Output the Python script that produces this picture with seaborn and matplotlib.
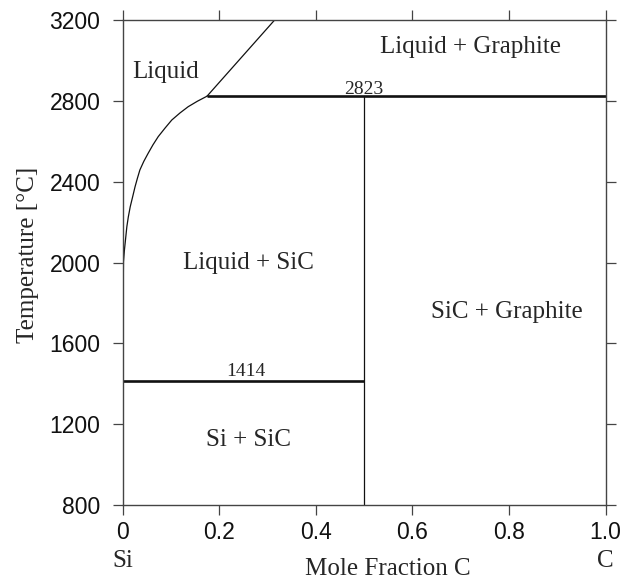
import matplotlib
matplotlib.use("Agg")
import matplotlib.pyplot as plt
import matplotlib.transforms as mtransforms
import seaborn as sns
import pandas as pd

# Liquidus of Si-rich liquid in equilibrium with SiC (mole fraction C, temperature in C)
liquidus_x = [0.001, 0.002, 0.004, 0.009, 0.012, 0.016, 0.021, 0.026, 0.031, 0.036, 0.044,
              0.053, 0.063, 0.074, 0.088, 0.102, 0.119, 0.136, 0.155, 0.175]
liquidus_T = [1726, 2003, 2062, 2177, 2225, 2276, 2325, 2375, 2418, 2458, 2500,
              2540, 2582, 2623, 2665, 2705, 2740, 2771, 2798, 2823]

# Liquidus of liquid in equilibrium with graphite above the peritectic
graphite_liq_x = [0.175, 0.315]
graphite_liq_T = [2823, 3200]

# Invariant temperatures
peritectic_T = 2823
eutectic_T = 1414
sic_x = 0.5

# Phase field labels
region_labels = ["Liquid", "Liquid + Graphite", "Liquid + SiC", "SiC + Graphite", "Si + SiC"]
region_x = [0.089, 0.7215, 0.26, 0.795, 0.261]
region_T = [2943, 3066, 2000, 1755, 1122]

x_ticks = [0, 0.2, 0.4, 0.6, 0.8, 1.0]
x_tick_labels = ["0", "0.2", "0.4", "0.6", "0.8", "1.0"]
y_ticks = [800, 1200, 1600, 2000, 2400, 2800, 3200]

sns.set_theme(style="ticks")
plt.rcParams["font.family"] = ["Liberation Serif", "DejaVu Serif"]

fig = plt.figure(figsize=(6.34, 5.79), dpi=100)
ax = fig.add_axes([122.5 / 634, 74 / 579, 483 / 634, 485 / 579])

line_col = "#111111"
spine_col = "#444444"

liq = pd.DataFrame({"x": liquidus_x, "T": liquidus_T})
sns.lineplot(data=liq, x="x", y="T", ax=ax, color=line_col, lw=0.9, sort=False)
gl = pd.DataFrame({"x": graphite_liq_x, "T": graphite_liq_T})
sns.lineplot(data=gl, x="x", y="T", ax=ax, color=line_col, lw=0.9, sort=False)

# Invariant lines
ax.plot([liquidus_x[-1], 1.0], [peritectic_T, peritectic_T], color=line_col, lw=1.9, solid_capstyle="butt")
ax.plot([0, sic_x], [eutectic_T, eutectic_T], color=line_col, lw=1.9, solid_capstyle="butt")
ax.plot([sic_x, sic_x], [800, peritectic_T], color=line_col, lw=0.9)

ax.text(0.5, peritectic_T + 10, str(peritectic_T), ha="center", va="baseline", fontsize=14)
ax.text(0.255, eutectic_T + 25, str(eutectic_T), ha="center", va="baseline", fontsize=14)

for lab, x, t in zip(region_labels, region_x, region_T):
    ax.text(x, t, lab, ha="center", va="center", fontsize=18)

ax.set_xlim(0, 1)
ax.set_ylim(800, 3200)
ax.set_xticks(x_ticks)
ax.set_xticklabels(x_tick_labels)
ax.set_yticks(y_ticks)

for s in ax.spines.values():
    s.set_visible(True)
    s.set_color(spine_col)
    s.set_linewidth(1.0)

ax.tick_params(axis="both", which="both", direction="out", length=7.5, width=0.9,
               color=spine_col, top=True, right=True, labeltop=False, labelright=False)
ax.tick_params(axis="x", pad=4)
ax.tick_params(axis="y", pad=8.5)
for lbl in ax.get_xticklabels() + ax.get_yticklabels():
    lbl.set_fontfamily(["Liberation Sans", "DejaVu Sans"])
    lbl.set_fontsize(16.5)
    lbl.set_color("#111111")

ax.set_xlabel("")
ax.set_ylabel("")
fig.text(28 / 634, 1 - 255 / 579, "Temperature [°C]", rotation=90, ha="center", va="center", fontsize=18)
fig.text(388 / 634, 1 - 569 / 579, "Mole Fraction C", ha="center", va="center", fontsize=18)

trans = mtransforms.blended_transform_factory(ax.transData, fig.transFigure)
ax.text(0.0, 1 - 561 / 579, "Si", transform=trans, ha="center", va="center", fontsize=18)
ax.text(1.0, 1 - 561 / 579, "C", transform=trans, ha="center", va="center", fontsize=18)

fig.savefig("out.png", dpi=100)
